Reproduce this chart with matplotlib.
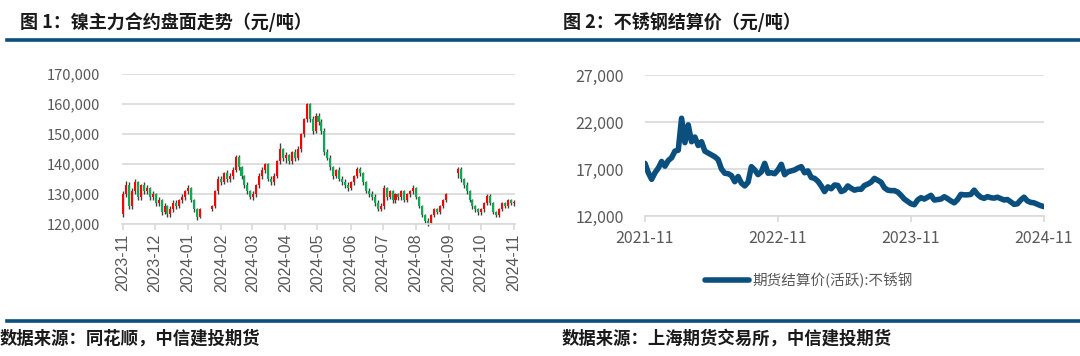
import numpy as np
import pandas as pd
import matplotlib
matplotlib.use("Agg")
import matplotlib.pyplot as plt
import matplotlib.dates as mdates
from matplotlib.lines import Line2D
from matplotlib.ticker import FuncFormatter

plt.rcParams['font.family'] = ['Noto Sans CJK SC', 'DejaVu Sans']

nan = np.nan

# ---- 图1: 镍主力合约 (thousand yuan/t), one candle every ~2 trading days
ni_open = [123.5, 130, 133, 126, 131, 134, 129, 133, 131, 132, 129,
           130, 127, 128, 124, 126, 123.5, 125, 127, 126, 128, 129,
           131, 132, 128, 125, 122.5, nan, nan, nan, 125, 126, 131,
           135, 134, 137, 135, 136, 138, 142.5, 139, 136, 133, 131,
           129, 130, 133, 136, 138, 140, 135, 134, 136, 141, 145,
           142, 143, 141, 144, 142, 145, 150, 155, 160, 155, 151,
           156, 154, 151, 144, 142, 139, 136, 138, 135, 134, 133,
           132, 134, 136, 138.5, 137, 134, 131, 130, 129, 127, 125,
           126, 132, 129, 131, 128, 130, 129, 131, 128, 130, 131,
           132, 129, 126, 123, 121, 120.5, 123, 125, 124, 126, 128,
           nan, nan, nan, 137, 138.5, 135, 133, 131, 128, 126, 125,
           124, 125, 127, 129.5, 127, 124, 123, 125, 127, 126, 128,
           127]
ni_close = [130, 133, 126, 131, 134, 129, 133, 131, 132, 129, 130,
            127, 128, 124, 126, 123.5, 125, 127, 126, 128, 129, 131,
            132, 128, 125, 122.5, 125, nan, nan, nan, 126, 131, 135,
            134, 137, 135, 136, 138, 142.5, 139, 136, 133, 131, 129,
            130, 133, 136, 138, 140, 135, 134, 136, 141, 145, 142,
            143, 141, 144, 142, 145, 150, 155, 160, 155, 151, 156,
            154, 151, 144, 142, 139, 136, 138, 135, 134, 133, 132,
            134, 136, 138.5, 137, 134, 131, 130, 129, 127, 125, 126,
            132, 129, 131, 128, 130, 129, 131, 128, 130, 131, 132,
            129, 126, 123, 121, 120.5, 123, 125, 124, 126, 128, 130,
            nan, nan, nan, 138.5, 135, 133, 131, 128, 126, 125, 124,
            125, 127, 129.5, 127, 124, 123, 125, 127, 126, 128, 127,
            127.5]
ni_high = [131, 134.5, 134, 132, 135, 134.5, 133.5, 134, 133, 132.5, 131,
           130.5, 129, 128.5, 127, 126.5, 126, 128, 128, 128.5, 130, 131.5,
           133, 132.5, 128.5, 125.5, 125.5, nan, nan, nan, 126.5, 131.5, 136,
           136, 137.5, 138, 137, 139, 143, 143, 139.5, 136.5, 134, 131.5,
           131, 133.5, 137, 139, 140.5, 140.5, 136, 137, 141.5, 147, 145.5,
           144, 143.5, 144.5, 145, 146, 150.5, 155.5, 160.5, 160.5, 156, 157,
           157, 155, 152, 145, 143, 139.5, 138.5, 139, 136, 135, 134,
           134.5, 136.5, 139, 139, 137.5, 134.5, 132, 131, 130, 128, 127,
           133, 132.5, 131.5, 131.5, 130.5, 130.5, 131.5, 131.5, 130.5, 131.5, 133,
           132.5, 129.5, 126.5, 123.5, 122, 123.5, 125.5, 125.5, 126.5, 128.5, 130.5,
           nan, nan, nan, 139, 139, 135.5, 134, 131.5, 128.5, 126.5, 125.5,
           125.5, 127.5, 130, 130, 127.5, 124.5, 125.5, 127.5, 127.5, 128.5, 128.5,
           128]
ni_low = [122.5, 129, 125, 125, 130, 128, 128, 130, 130, 128, 128,
          126, 126, 123, 123.5, 122.5, 122.5, 124, 125, 125.5, 127, 128,
          130, 127.5, 124, 121.5, 122, nan, nan, nan, 124.5, 125.5, 130,
          133, 133.5, 134, 134, 135, 137.5, 138, 135, 132, 130, 128.5,
          128, 129, 132, 135, 137, 134.5, 133, 133, 135.5, 140, 141,
          140.5, 140, 140, 141, 141.5, 144, 149, 154, 154, 150, 150.5,
          153, 150, 143, 141.5, 138, 135, 135.5, 134.5, 133, 132, 131,
          131.5, 133, 135.5, 136, 133, 130.5, 129, 128, 126, 124.5, 124.5,
          125, 128, 128.5, 127, 127, 128, 128, 127.5, 127.5, 129, 130,
          128.5, 125.5, 122.5, 120.5, 119.5, 120, 122.5, 123.5, 123.5, 125.5, 127.5,
          nan, nan, nan, 135.5, 134, 132, 130, 127.5, 125, 124, 123,
          123, 124, 126.5, 126.5, 123.5, 122.5, 122.5, 124.5, 125.5, 125.5, 126.5,
          126]

# ---- 图2: 不锈钢期货结算价(活跃), yuan/t, sampled about every 9 days
ss_price = [17600, 16600, 15900, 16600, 17100, 17800, 17300, 17900, 18200, 18900,
            19000, 22400, 19800, 21700, 19900, 20400, 19500, 19900, 18900, 18700,
            18500, 18300, 18000, 17000, 16550, 16500, 16300, 15650, 16200, 15500,
            15200, 15600, 17250, 16900, 16400, 16700, 17600, 16550, 16600, 16500,
            16900, 17500, 16400, 16700, 16800, 16900, 17100, 17250, 16600, 16800,
            16100, 16000, 15700, 15200, 14600, 15100, 14900, 15300, 15250, 14600,
            14750, 15200, 14950, 14750, 14850, 14840, 15250, 15400, 15600, 16000,
            15800, 15600, 15000, 14750, 14700, 14700, 14550, 14200, 13800, 13550,
            13300, 13200, 13700, 13950, 13800, 14000, 14200, 13700, 13750, 13800,
            14050, 13850, 13600, 13400, 13750, 14300, 14250, 14250, 14300, 14750,
            14300, 14000, 13880, 14060, 13950, 13900, 14000, 13850, 13700, 13750,
            13500, 13240, 13300, 13700, 14000, 13600, 13450, 13400, 13250, 13100,
            13000]

BLUE = "#0B4F7E"
GRID = "#D9D9D9"
TXT = "#595959"
UP = "#FF0000"
DOWN = "#00B050"
WICK = "#404040"

fig = plt.figure(figsize=(10.8, 3.56), dpi=100)

def fx(px):
    return px / 1080

def fy(py):
    return 1 - py / 356

# header / footer rules and texts
for y in (40, 321):
    fig.add_artist(Line2D([fx(7), 1.0], [fy(y), fy(y)], color=BLUE, lw=2.6))
fig.text(fx(20), fy(22), "图 1：镍主力合约盘面走势（元/吨）", fontsize=13,
         fontweight="bold", va="center", ha="left", color="#1a1a1a")
fig.text(fx(563), fy(22), "图 2：不锈钢结算价（元/吨）", fontsize=13,
         fontweight="bold", va="center", ha="left", color="#1a1a1a")
fig.text(fx(0), fy(339), "数据来源：同花顺，中信建投期货", fontsize=12.5,
         fontweight="bold", style="italic", va="center", ha="left", color="#1a1a1a")
fig.text(fx(562), fy(339), "数据来源：上海期货交易所，中信建投期货", fontsize=12.5,
         fontweight="bold", style="italic", va="center", ha="left", color="#1a1a1a")

# ---- left: candlesticks
ax1 = fig.add_axes([fx(122), fy(224), fx(515 - 122), fy(74) - fy(224)])
dates = pd.date_range("2023-11-01", "2024-11-01", periods=len(ni_close))
df = pd.DataFrame({"open": ni_open, "close": ni_close, "high": ni_high, "low": ni_low},
                  index=dates) * 1000
df = df.dropna()
xd = mdates.date2num(df.index.to_pydatetime())
up = df["close"] >= df["open"]
ax1.vlines(xd, df["low"], df["high"], color=WICK, lw=1.0, zorder=2, clip_on=False)
ax1.bar(xd, (df["close"] - df["open"]).abs().clip(lower=150),
        bottom=np.minimum(df["open"], df["close"]), width=1.9,
        color=np.where(up, UP, DOWN), zorder=3)
ax1.set_ylim(120000, 170000)
ax1.set_yticks(np.arange(120000, 170001, 10000))
ax1.set_xlim(mdates.date2num(pd.Timestamp("2023-11-01")) - 1,
             mdates.date2num(pd.Timestamp("2024-11-01")) + 1)
ax1.xaxis.set_major_locator(mdates.MonthLocator())
ax1.xaxis.set_major_formatter(mdates.DateFormatter("%Y-%m"))
ax1.yaxis.set_major_formatter(FuncFormatter(lambda v, p: f"{v:,.0f}"))
ax1.grid(axis="y", color=GRID, lw=1.2)
ax1.set_axisbelow(True)
for s in ("top", "right", "left"):
    ax1.spines[s].set_visible(False)
ax1.spines["bottom"].set_color(GRID)
ax1.spines["bottom"].set_linewidth(1.2)
ax1.tick_params(axis="y", length=0, pad=16, labelsize=10.5, labelcolor=TXT)
ax1.tick_params(axis="x", length=4, color=GRID, width=1.2, pad=3,
                labelsize=11.5, labelcolor=TXT, labelrotation=90)
for lab in ax1.get_xticklabels():
    lab.set_fontfamily(["Liberation Sans", "DejaVu Sans"])

# ---- right: stainless steel line
ax2 = fig.add_axes([fx(645), fy(216), fx(1044 - 645), fy(75) - fy(216)])
sdates = pd.date_range("2021-11-01", "2024-11-01", periods=len(ss_price))
ln, = ax2.plot(sdates, ss_price, color=BLUE, lw=4.0, solid_capstyle="round",
               solid_joinstyle="round")
ax2.set_ylim(12000, 27000)
ax2.set_yticks([12000, 17000, 22000, 27000])
ax2.set_xlim(pd.Timestamp("2021-11-01"), pd.Timestamp("2024-11-01"))
ax2.set_xticks(pd.to_datetime(["2021-11-01", "2022-11-01", "2023-11-01", "2024-11-01"]))
ax2.xaxis.set_major_formatter(mdates.DateFormatter("%Y-%m"))
ax2.yaxis.set_major_formatter(FuncFormatter(lambda v, p: f"{v:,.0f}"))
ax2.grid(axis="y", color=GRID, lw=1.2)
ax2.set_axisbelow(True)
for s in ("top", "right", "left"):
    ax2.spines[s].set_visible(False)
ax2.spines["bottom"].set_color(GRID)
ax2.spines["bottom"].set_linewidth(1.2)
ax2.tick_params(axis="y", length=0, pad=15, labelsize=11.5, labelcolor=TXT)
ax2.tick_params(axis="x", length=4, color=GRID, width=1.2, pad=6,
                labelsize=11.5, labelcolor=TXT)

leg = fig.legend([ln], ["期货结算价(活跃):不锈钢"], loc="center",
                 bbox_to_anchor=(fx(809), fy(280)), frameon=False,
                 fontsize=10.5, handlelength=3.0, handletextpad=0.2)
for t in leg.get_texts():
    t.set_color(TXT)

fig.savefig("out.png", dpi=100)
